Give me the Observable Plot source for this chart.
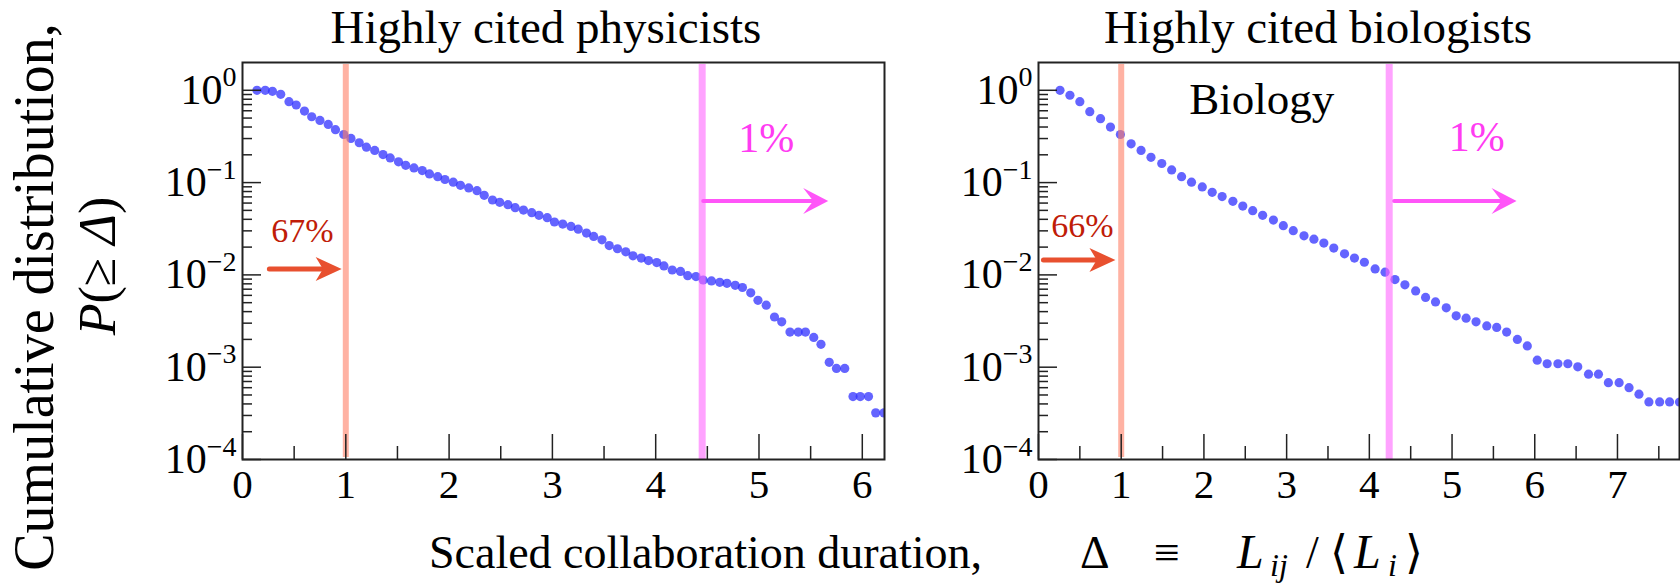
<!DOCTYPE html>
<html>
<head>
<meta charset="utf-8">
<script src="https://cdn.jsdelivr.net/npm/d3@7"></script>
<script src="https://cdn.jsdelivr.net/npm/@observablehq/plot@0.6"></script>
<style>
  body { margin: 0; background: #fff; }
  #fig { position: relative; width: 1680px; height: 584px; overflow: hidden;
         font-family: "Liberation Serif", "Times New Roman", serif; }
  #fig > svg { position: absolute; top: 0; }
  #fig text { font-family: "Liberation Serif", "Times New Roman", serif; }
</style>
</head>
<body>
<div id="fig"></div>
<script>
// ---------- data: cumulative distribution P(>= Δ) of scaled collaboration duration ----------
const physX = [0.14,0.22,0.29,0.37,0.45,0.52,0.60,0.67,0.75,0.83,
  0.90,0.98,1.05,1.13,1.20,1.28,1.36,1.43,1.51,1.58,
  1.66,1.74,1.81,1.89,1.96,2.04,2.11,2.19,2.27,2.34,
  2.42,2.49,2.57,2.64,2.72,2.80,2.87,2.95,3.02,3.10,
  3.18,3.25,3.33,3.40,3.48,3.55,3.63,3.71,3.78,3.86,
  3.93,4.01,4.08,4.16,4.24,4.31,4.39,4.46,4.54,4.62,
  4.69,4.77,4.84,4.92,4.99,5.07,5.15,5.22,5.30,5.38,
  5.45,5.53,5.60,5.68,5.75,5.83,5.91,5.98,6.06,6.13,6.21];
const physP = [1.00,1.00,0.975,0.905,0.753,0.693,0.596,0.517,0.472,0.427,
  0.374,0.332,0.301,0.270,0.242,0.223,0.201,0.185,0.168,0.154,
  0.144,0.135,0.124,0.116,0.108,0.101,0.0935,0.0875,0.0818,0.0728,
  0.0648,0.0611,0.0577,0.0535,0.0504,0.0472,0.0442,0.0417,0.0374,0.0355,
  0.0335,0.0313,0.0284,0.0261,0.0240,0.0208,0.0192,0.0178,0.0161,0.0152,
  0.0143,0.0136,0.0125,0.0113,0.0109,0.0098,0.0096,0.0088,0.0086,0.0083,
  0.0081,0.0077,0.0073,0.0064,0.0053,0.0047,0.0035,0.0031,0.0024,0.0024,
  0.0024,0.0021,0.00177,0.00113,0.00097,0.00097,0.00048,0.00048,0.00048,0.00032,0.00032];

const bioX = [0.26,0.38,0.50,0.62,0.75,0.87,0.99,1.12,1.24,1.36,
  1.49,1.61,1.73,1.85,1.98,2.10,2.22,2.35,2.47,2.59,
  2.71,2.84,2.96,3.08,3.21,3.33,3.45,3.57,3.70,3.82,
  3.94,4.07,4.19,4.31,4.43,4.56,4.68,4.80,4.93,5.05,
  5.17,5.29,5.42,5.54,5.66,5.79,5.91,6.03,6.15,6.28,
  6.40,6.52,6.65,6.77,6.89,7.02,7.14,7.26,7.38,7.51,7.63,7.75];
const bioP = [1.0,0.883,0.753,0.586,0.492,0.399,0.332,0.263,0.223,0.188,
  0.161,0.137,0.116,0.101,0.0897,0.0785,0.0705,0.0627,0.0557,0.0496,
  0.0442,0.0393,0.0341,0.0301,0.0265,0.0244,0.0221,0.0195,0.0169,0.0152,
  0.0137,0.0116,0.0107,0.0089,0.0078,0.0067,0.0057,0.0051,0.0044,0.0036,
  0.0034,0.0031,0.0028,0.0027,0.0024,0.0020,0.0017,0.00119,0.00109,0.00109,
  0.00109,0.00101,0.00084,0.00084,0.00068,0.00068,0.00060,0.00051,0.00042,0.00042,0.00042,0.00042];

// ---------- axes ----------
const yMajor = [1, 0.1, 0.01, 0.001, 0.0001];
const yMinor = [];
for (const e of [-4, -3, -2, -1, 0]) for (let m = 2; m <= 9; m++) if (m * 10 ** e < 2) yMinor.push(m * 10 ** e);
const physXTicks = [0, 1, 2, 3, 4, 5, 6];
const bioXTicks = [0, 1, 2, 3, 4, 5, 6, 7];
const panelTitles = ["Highly cited physicists", "Highly cited biologists"];

// ---------- annotations: [physicists, biologists] ----------
const lowCut = [1, 1];               // Δ = 1 threshold
const highCut = [4.45, 4.24];        // top-1% threshold
const lowShare = ["67%", "66%"];
const highShare = ["1%", "1%"];
const lowLabelPos = [[0.58, 0.030], [0.53, 0.034]];
const lowArrow = [[0.26, 0.96, 0.0116], [0.06, 0.93, 0.0145]];
const highLabelPos = [[5.07, 0.30], [5.30, 0.31]];
const highArrow = [[4.46, 5.67, 0.063], [4.30, 5.78, 0.063]];
const fieldTag = [null, {text: "Biology", x: 2.70, y: 0.80}];

const SERIF = "'Liberation Serif', 'Times New Roman', serif";

// filled, slightly notched arrowhead pointing right with its tip at the origin
function headSymbol(len, half, notch) {
  return {draw(ctx) {
    ctx.moveTo(0, 0);
    ctx.lineTo(-len, -half);
    ctx.lineTo(-len * notch, 0);
    ctx.lineTo(-len, half);
    ctx.closePath();
  }};
}

const H = 520, MT = 62, MB = 61, innerH = H - MT - MB;

function panel(k, xs, ps, xMax, xTicks, width, ml, mr) {
  const innerW = width - ml - mr;
  const pts = xs.map((x, i) => ({x, p: ps[i]}));
  const xMinor = xTicks.map(t => t + 0.5).filter(t => t < xMax);
  const red = "#e8502f", pink = "#ff55f8";
  const marks = [
    Plot.dot(pts, {x: "x", y: "p", r: 4.6, fill: "#3030ff", fillOpacity: 0.75, clip: true}),
    Plot.ruleX([lowCut[k]], {stroke: "#ff7f66", strokeOpacity: 0.6, strokeWidth: 6, insetTop: 2, insetBottom: 2}),
    Plot.ruleX([highCut[k]], {stroke: "#ff66ff", strokeOpacity: 0.6, strokeWidth: 7, insetTop: 2}),
    // threshold arrows
    Plot.arrow([lowArrow[k]], {x1: d => d[0], x2: d => d[1], y1: d => d[2], y2: d => d[2],
      stroke: red, strokeWidth: 5, headLength: 0, insetEnd: 14}),
    Plot.dot([lowArrow[k]], {x: d => d[1], y: d => d[2], fill: red, stroke: null,
      symbol: headSymbol(26, 12, 0.72)}),
    Plot.arrow([highArrow[k]], {x1: d => d[0], x2: d => d[1], y1: d => d[2], y2: d => d[2],
      stroke: pink, strokeWidth: 4, headLength: 0, insetEnd: 12}),
    Plot.dot([highArrow[k]], {x: d => d[1], y: d => d[2], fill: pink, stroke: null,
      symbol: headSymbol(25, 13, 0.6)}),
    Plot.text([lowShare[k]], {x: [lowLabelPos[k][0]], y: [lowLabelPos[k][1]], text: d => d,
      fill: "#c01c08", fontSize: 34, fontFamily: SERIF}),
    Plot.text([highShare[k]], {x: [highLabelPos[k][0]], y: [highLabelPos[k][1]], text: d => d,
      fill: "#ff3cf2", fontSize: 42, fontFamily: SERIF}),
    // inward ticks
    Plot.ruleY(yMajor, {stroke: "#222", strokeWidth: 1.5, insetRight: innerW - 19}),
    Plot.ruleY(yMinor, {stroke: "#222", strokeWidth: 1.5, insetRight: innerW - 10}),
    Plot.ruleX(xTicks, {stroke: "#222", strokeWidth: 1.5, insetTop: innerH - 25}),
    Plot.ruleX(xMinor, {stroke: "#222", strokeWidth: 1.5, insetTop: innerH - 13}),
    Plot.axisX(xTicks, {tickSize: 0, tickPadding: 9, tickFormat: d => String(d), label: null,
      fontSize: 41, fontFamily: SERIF}),
    Plot.axisY(yMajor, {tickSize: 0, tickPadding: 6, label: null, fontSize: 42, fontFamily: SERIF,
      tickFormat: d => String(Math.round(Math.log10(d))).replace("-", "\u2212")}),
    Plot.frame({stroke: "#222", strokeWidth: 2})
  ];
  if (fieldTag[k]) marks.push(Plot.text([fieldTag[k]], {x: "x", y: "y", text: "text", fill: "#000",
    fontSize: 45, fontFamily: SERIF}));
  const svg = Plot.plot({
    width, height: H,
    marginLeft: ml, marginRight: mr, marginTop: MT, marginBottom: MB,
    style: {fontFamily: SERIF, fontSize: "40px", color: "#000", background: "transparent", overflow: "visible"},
    x: {domain: [0, xMax]},
    y: {type: "log", domain: [1e-4, 2]},
    marks
  });
  // decade labels as 10 with a raised exponent
  d3.select(svg).selectAll('g[aria-label="y-axis tick label"] text').each(function () {
    const exp = this.textContent;
    const t = d3.select(this);
    t.text("10");
    t.append("tspan").attr("dy", "-0.62em").attr("font-size", "28px").text(exp);
  });
  return svg;
}

const fig = document.getElementById("fig");
const left = panel(0, physX, physP, 6.215, physXTicks, 900, 242, 16);
left.style.left = "0px";
fig.appendChild(left);
const right = panel(1, bioX, bioP, 7.75, bioXTicks, 780, 138, 1);
right.style.left = "900px";
fig.appendChild(right);

// ---------- shared titles and axis labels ----------
const over = d3.select(fig).append("svg")
  .attr("width", 1680).attr("height", 584)
  .style("left", "0px").style("pointer-events", "none")
  .attr("font-family", SERIF).attr("fill", "#000");

over.append("text").attr("x", 546).attr("y", 43).attr("text-anchor", "middle")
  .attr("font-size", 47).text(panelTitles[0]);
over.append("text").attr("x", 1318).attr("y", 43).attr("text-anchor", "middle")
  .attr("font-size", 47).text(panelTitles[1]);

over.append("text").attr("transform", "translate(53,297) rotate(-90)").attr("text-anchor", "middle")
  .attr("font-size", 56).text("Cumulative distribution,");
const pl = over.append("text").attr("transform", "translate(115,266) rotate(-90)").attr("text-anchor", "middle")
  .attr("font-size", 52);
pl.append("tspan").attr("font-style", "italic").text("P");
pl.append("tspan").text("(\u2265 ");
pl.append("tspan").attr("font-style", "italic").text("\u0394");
pl.append("tspan").text(")");

over.append("text").attr("x", 429).attr("y", 568).attr("font-size", 46).text("Scaled collaboration duration,");
const formula = [
  {t: "\u0394", x: 1080, dy: 0, fs: 46, it: false},
  {t: "\u2261", x: 1154, dy: 0, fs: 46, it: false},
  {t: "L", x: 1237, dy: 0, fs: 48, it: true},
  {t: "ij", x: 1270, dy: 8, fs: 32, it: true},
  {t: "/", x: 1306, dy: 0, fs: 46, it: false},
  {t: "\u27E8", x: 1330, dy: 0, fs: 46, it: false},
  {t: "L", x: 1354, dy: 0, fs: 48, it: true},
  {t: "i", x: 1388, dy: 8, fs: 32, it: true},
  {t: "\u27E9", x: 1405, dy: 0, fs: 46, it: false}
];
for (const f of formula) {
  over.append("text").attr("x", f.x).attr("y", 568 + f.dy).attr("font-size", f.fs)
    .attr("font-style", f.it ? "italic" : "normal").text(f.t);
}
</script>
</body>
</html>
